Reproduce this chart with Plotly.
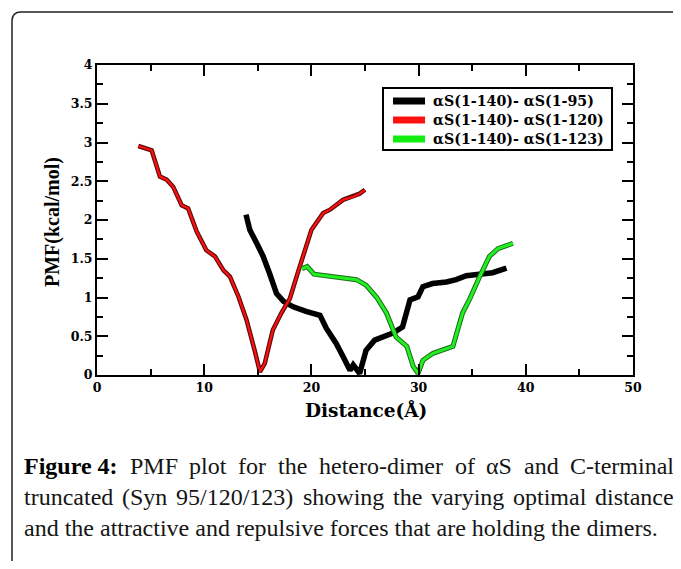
import plotly.graph_objects as go

# ---------------- data ----------------
black_x = [13.9, 14.26, 14.9, 15.5, 16.1, 16.75, 17.4, 18.3, 19.5, 20.8, 21.4, 22.3, 22.95, 23.6, 23.9, 24.5,
           25.1, 25.9, 27.6, 28.5, 29.2, 29.95, 30.4, 31.3, 32.6, 33.5, 34.45, 35.7, 36.9, 38.2]
black_y = [2.07, 1.87, 1.70, 1.53, 1.31, 1.05, 0.95, 0.88, 0.82, 0.77, 0.60, 0.41, 0.24, 0.06, 0.13, 0.02,
           0.32, 0.45, 0.54, 0.62, 0.97, 1.01, 1.14, 1.18, 1.20, 1.23, 1.28, 1.30, 1.32, 1.38]

red_x = [3.85, 5.1, 5.87, 6.5, 7.1, 7.9, 8.5, 9.3, 10.2, 11.0, 11.8, 12.4, 13.2, 13.95, 14.7, 15.2,
         15.65, 16.4, 17.2, 18.0, 18.8, 19.2, 20.0, 21.1, 21.7, 22.95, 23.9, 24.5, 25.0]
red_y = [2.955, 2.90, 2.56, 2.52, 2.43, 2.19, 2.15, 1.85, 1.61, 1.53, 1.35, 1.27, 1.01, 0.71, 0.32, 0.04,
         0.15, 0.58, 0.80, 0.99, 1.35, 1.53, 1.87, 2.09, 2.13, 2.26, 2.30, 2.34, 2.39]

green_x = [19.1, 19.6, 20.25, 22.0, 24.2, 25.1, 26.1, 27.0, 27.9, 28.9, 29.5, 29.95, 30.4, 31.35, 33.2,
           34.1, 34.8, 35.7, 36.6, 37.4, 38.8]
green_y = [1.37, 1.40, 1.30, 1.27, 1.23, 1.16, 1.00, 0.80, 0.49, 0.37, 0.11, 0.02, 0.19, 0.28, 0.37,
           0.80, 0.99, 1.27, 1.53, 1.63, 1.70]

series_names = ["αS(1-140)- αS(1-95)", "αS(1-140)- αS(1-120)", "αS(1-140)- αS(1-123)"]
series_colors = ["#000000", "#ff1010", "#10ee10"]

x_ticks = [0, 10, 20, 30, 40, 50]
y_ticks = [0, 0.5, 1, 1.5, 2, 2.5, 3, 3.5, 4]
y_tick_labels = ["0", "0.5", "1", "1.5", "2", "2.5", "3", "3.5", "4"]

caption_label = "Figure 4:"
caption_line1 = ["PMF", "plot", "for", "the", "hetero-dimer", "of", "αS", "and", "C-terminal"]
caption_line2 = ["truncated", "(Syn", "95/120/123)", "showing", "the", "varying", "optimal", "distance"]
caption_line3 = "and the attractive and repulsive forces that are holding the dimers."

# ---------------- layout constants (page pixels) ----------------
PAGE_OFF = 8                       # browser body margin
W, H = 681 - 2 * PAGE_OFF, 569 - 2 * PAGE_OFF
L, R, T, B = 97, 633, 65, 375      # plot area in page pixels
PW, PH = R - L, B - T


def px(xp):
    return (xp - L) / PW


def py(yp):
    return (B - yp) / PH


SERIF = "Liberation Serif, Times New Roman, serif"
WIDE = "DejaVu Serif, serif"

# approximate Times widths (per 1000 em) for justifying caption lines
TW = dict(a=444, b=500, c=444, d=500, e=444, f=333, g=500, h=500, i=278, j=278, k=500, l=278, m=778,
          n=500, o=500, p=500, q=500, r=333, s=389, t=278, u=500, v=500, w=722, x=500, y=500, z=444)
TW.update({" ": 250, ".": 250, "(": 333, ")": 333, "/": 278, "-": 333, ":": 278, "C": 667, "S": 556,
           "P": 556, "M": 889, "F": 556, "α": 520})
TWB = dict(TW)
TWB.update({"F": 611, "u": 556, "r": 444, ":": 333})
CAP_SIZE = 24


def tw(s, bold=False):
    tab = TWB if bold else TW
    return sum(tab.get(c, 500) for c in s) * CAP_SIZE / 1000.0


fig = go.Figure()

fig.add_trace(go.Scatter(x=black_x, y=black_y, mode="lines", name=series_names[0], showlegend=False,
                         line=dict(color="#000000", width=5.5)))
fig.add_trace(go.Scatter(x=red_x, y=red_y, mode="lines", showlegend=False,
                         line=dict(color="#5a0a0a", width=4.5)))
fig.add_trace(go.Scatter(x=red_x, y=red_y, mode="lines", name=series_names[1], showlegend=False,
                         line=dict(color="#ff1010", width=2.2)))
fig.add_trace(go.Scatter(x=green_x, y=green_y, mode="lines", showlegend=False,
                         line=dict(color="#1a6a1a", width=5)))
fig.add_trace(go.Scatter(x=green_x, y=green_y, mode="lines", name=series_names[2], showlegend=False,
                         line=dict(color="#22ee22", width=3)))

axis_common = dict(
    showgrid=False, zeroline=False, showline=True, linecolor="black", linewidth=2,
    mirror="allticks", ticks="inside", ticklen=11, tickwidth=2, tickcolor="black",
    tickfont=dict(family=WIDE, size=12.5, color="black", weight="bold"),
)
fig.update_xaxes(range=[0, 50], tickvals=x_ticks,
                 minor=dict(ticks="inside", ticklen=6, tickwidth=1.5, tickcolor="black", dtick=5),
                 **axis_common)
fig.update_yaxes(range=[0, 4], tickvals=y_ticks, ticktext=y_tick_labels,
                 minor=dict(ticks="inside", ticklen=6, tickwidth=1.5, tickcolor="black", dtick=0.25),
                 **axis_common)

annotations = [
    dict(text="Distance(Å)", x=px(366), y=py(410), xref="paper", yref="paper", showarrow=False,
         xanchor="center", yanchor="middle",
         font=dict(family=WIDE, size=18.5, color="black", weight="bold")),
    dict(text="PMF(kcal/mol)", x=px(52), y=py(222), xref="paper", yref="paper", showarrow=False,
         xanchor="center", yanchor="middle", textangle=-90,
         font=dict(family=SERIF, size=20, color="black", weight="bold")),
]

shapes = []

# ---- manual legend ----
LEG_X0, LEG_X1, LEG_Y0, LEG_Y1 = 383, 612, 88, 150
shapes.append(dict(type="rect", xref="paper", yref="paper",
                   x0=px(LEG_X0), x1=px(LEG_X1), y0=py(LEG_Y1), y1=py(LEG_Y0),
                   line=dict(color="black", width=2), fillcolor="white", layer="above"))
row_y = [101, 120, 139]
for name, col, ry in zip(series_names, series_colors, row_y):
    shapes.append(dict(type="line", xref="paper", yref="paper",
                       x0=px(393), x1=px(425), y0=py(ry), y1=py(ry),
                       line=dict(color=col, width=7), layer="above"))
    annotations.append(dict(text=name, x=px(431), y=py(ry), xref="paper", yref="paper",
                            showarrow=False, xanchor="left", yanchor="middle",
                            font=dict(family=WIDE, size=14.2, color="black", weight="bold")))

# ---- caption: justified lines placed word by word ----
X0, X1 = 22, 672
cap_font = dict(family=SERIF, size=CAP_SIZE, color="#151515")


def justify(words, bold_first=False):
    widths = [tw(w, bold=(bold_first and i == 0)) for i, w in enumerate(words)]
    gap = (X1 - X0 - sum(widths)) / (len(words) - 1)
    xs, cur = [], X0
    for wdt in widths:
        xs.append(cur)
        cur += wdt + gap
    return xs


words1 = [caption_label] + caption_line1
for i, (w, xx) in enumerate(zip(words1, justify(words1, bold_first=True))):
    f = dict(cap_font)
    if i == 0:
        f["weight"] = "bold"
        f["color"] = "black"
    annotations.append(dict(text=w, x=px(xx), y=py(466), xref="paper", yref="paper",
                            showarrow=False, xanchor="left", yanchor="middle", font=f))
for w, xx in zip(caption_line2, justify(caption_line2)):
    annotations.append(dict(text=w, x=px(xx), y=py(497), xref="paper", yref="paper",
                            showarrow=False, xanchor="left", yanchor="middle", font=cap_font))
annotations.append(dict(text=caption_line3, x=px(X0), y=py(528), xref="paper", yref="paper",
                        showarrow=False, xanchor="left", yanchor="middle", font=cap_font))

# ---- rounded page border (left + top) ----
bx0, by0, rad = px(12), py(12), 9
path = (f"M {bx0},{py(570)} L {bx0},{py(12 + rad)} "
        f"Q {bx0},{by0} {px(12 + rad)},{by0} L {px(673)},{by0}")
shapes.append(dict(type="path", path=path, xref="paper", yref="paper",
                   line=dict(color="#222222", width=1.5)))

fig.update_layout(
    width=W, height=H,
    margin=dict(l=L - PAGE_OFF, r=W - (R - PAGE_OFF), t=T - PAGE_OFF, b=H - (B - PAGE_OFF)),
    paper_bgcolor="white", plot_bgcolor="white",
    showlegend=False,
    annotations=annotations,
    shapes=shapes,
)

fig.write_html("out.html")
